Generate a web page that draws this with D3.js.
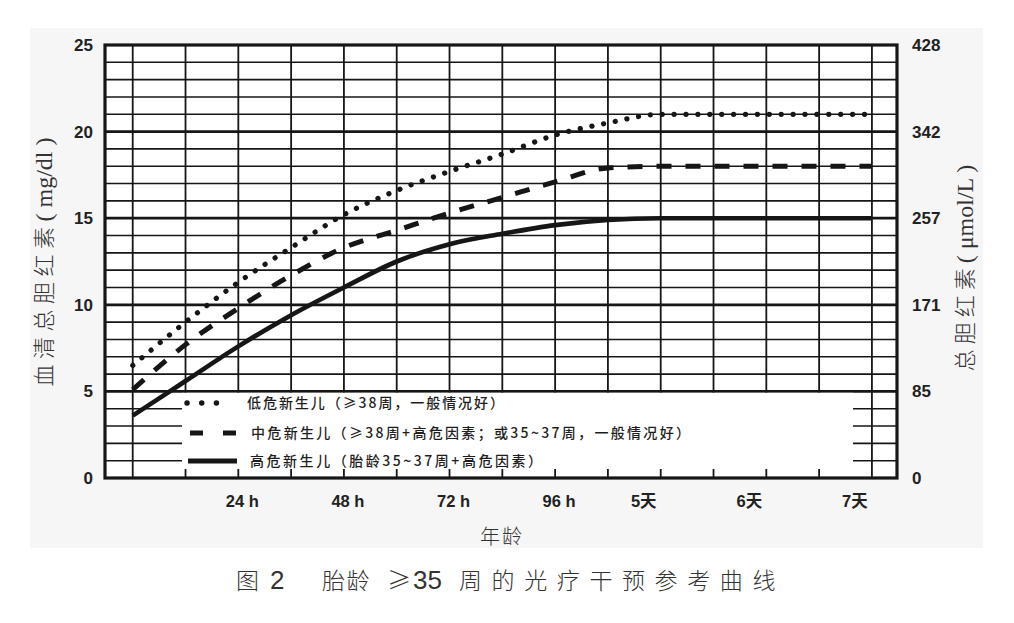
<!DOCTYPE html>
<html><head><meta charset="utf-8">
<script src="https://cdn.jsdelivr.net/npm/d3@7"></script>
<style>body{margin:0;background:#fff}svg{display:block}</style>
</head><body><svg id="c" width="1014" height="623"></svg>
<script>
// ---- data ----
const hours = [0, 12, 24, 36, 48, 60, 72, 84, 96, 108, 120, 132, 144, 156, 168];
const lowRisk    = [6.5, 9.0, 11.3, 13.3, 15.2, 16.6, 17.7, 18.7, 19.8, 20.5, 21.0, 21.0, 21.0, 21.0, 21.0];
const mediumRisk = [5.1, 7.7, 9.8, 11.7, 13.3, 14.3, 15.3, 16.2, 17.1, 17.9, 18.0, 18.0, 18.0, 18.0, 18.0];
const highRisk   = [3.6, 5.6, 7.6, 9.4, 11.0, 12.5, 13.5, 14.1, 14.6, 14.9, 15.0, 15.0, 15.0, 15.0, 15.0];
const leftTicks = [0, 5, 10, 15, 20, 25];
const rightTickLabels = ["0", "85", "171", "257", "342", "428"];
const xTickHours = [24, 48, 72, 96, 120, 144, 168];
const xTickLabels = ["24 h", "48 h", "72 h", "96 h", "5天", "6天", "7天"];
const legendLabels = [
  "低危新生儿（≥38周，一般情况好）",
  "中危新生儿（≥38周+高危因素；或35~37周，一般情况好）",
  "高危新生儿（胎龄35~37周+高危因素）"
];

// ---- layout ----
const svg = d3.select("#c");
const L = 105, R = 897, T = 45, B = 478;
const x = d3.scaleLinear().domain([-6.3, 173.7]).range([L, R]);
const y = d3.scaleLinear().domain([0, 25]).range([B, T]);
const ink = "#161616";
const numFont = "'Liberation Sans', Arial, 'Noto Sans CJK SC', sans-serif";
const cjkFont = "'Noto Sans CJK SC', sans-serif";
const serifFont = "'Liberation Serif', 'Times New Roman', serif";

// background panel
svg.append("rect").attr("x", 30).attr("y", 28).attr("width", 953).attr("height", 520).attr("fill", "#f6f6f6");
svg.append("rect").attr("x", L).attr("y", T).attr("width", R - L).attr("height", B - T).attr("fill", "#fff");

// grid
const g = svg.append("g");
g.selectAll("line.h").data(d3.range(1, 25)).join("line")
  .attr("x1", L).attr("x2", R).attr("y1", d => y(d)).attr("y2", d => y(d))
  .attr("stroke", ink).attr("stroke-width", d => d % 5 === 0 ? 2.8 : 1.6);
g.selectAll("line.v").data(hours).join("line")
  .attr("x1", d => x(d)).attr("x2", d => x(d)).attr("y1", T).attr("y2", B)
  .attr("stroke", ink).attr("stroke-width", 1.8);

// legend box (covers grid)
const LB = {x1: 182, x2: 853};
svg.append("rect").attr("x", LB.x1).attr("y", y(5) + 1.4).attr("width", LB.x2 - LB.x1).attr("height", B - y(5) - 1.4).attr("fill", "#fff");
svg.selectAll("line.tk").data(hours.filter(h => x(h) > LB.x1 && x(h) < LB.x2)).join("line")
  .attr("x1", d => x(d)).attr("x2", d => x(d)).attr("y1", B - 9).attr("y2", B)
  .attr("stroke", ink).attr("stroke-width", 1.8);

// curves
const line = d3.line().x((d, i) => x(hours[i])).y(d => y(d)).curve(d3.curveMonotoneX);
svg.append("path").attr("d", line(lowRisk)).attr("fill", "none").attr("stroke", ink)
  .attr("stroke-width", 5.2).attr("stroke-linecap", "round").attr("stroke-dasharray", "0.1 11.8");
svg.append("path").attr("d", line(mediumRisk)).attr("fill", "none").attr("stroke", ink)
  .attr("stroke-width", 5).attr("stroke-dasharray", "15 14");
svg.append("path").attr("d", line(highRisk)).attr("fill", "none").attr("stroke", ink)
  .attr("stroke-width", 4.6);

// legend items
const legY = [403, 433, 461];
const legW = [257, 439, 292];
const legX = [247, 251, 250];
const sampleStyle = [
  {x1: 187, x2: 231, dash: "0.1 14.6", cap: "round", w: 5.4},
  {x1: 190, x2: 237, dash: "13 20", cap: "butt", w: 5},
  {x1: 188, x2: 237, dash: null, cap: "butt", w: 5}
];
legendLabels.forEach((t, i) => {
  const s = sampleStyle[i];
  svg.append("line").attr("x1", s.x1).attr("x2", s.x2).attr("y1", legY[i]).attr("y2", legY[i])
    .attr("stroke", ink).attr("stroke-width", s.w).attr("stroke-linecap", s.cap)
    .attr("stroke-dasharray", s.dash);
  svg.append("text").attr("x", legX[i]).attr("y", legY[i]).attr("dy", "0.36em")
    .attr("font-family", cjkFont).attr("font-size", 14).attr("font-weight", 500)
    .attr("fill", "#1e1e1e").attr("textLength", legW[i]).attr("lengthAdjust", "spacing").text(t);
});

// frame
svg.append("rect").attr("x", L).attr("y", T).attr("width", R - L).attr("height", B - T)
  .attr("fill", "none").attr("stroke", ink).attr("stroke-width", 3.2);

// y tick labels
svg.selectAll("text.yl").data(leftTicks).join("text")
  .attr("x", 93).attr("y", d => y(d)).attr("dy", "0.35em").attr("text-anchor", "end")
  .attr("font-family", numFont).attr("font-weight", "bold").attr("font-size", 17).attr("fill", "#222")
  .text(d => d);
svg.selectAll("text.yr").data(rightTickLabels).join("text")
  .attr("x", 912).attr("y", (d, i) => y(leftTicks[i])).attr("dy", "0.35em").attr("text-anchor", "start")
  .attr("font-family", numFont).attr("font-weight", "bold").attr("font-size", 17).attr("fill", "#222")
  .text(d => d);

// x tick labels
svg.selectAll("text.xl").data(xTickLabels).join("text")
  .attr("x", (d, i) => x(xTickHours[i])).attr("dx", d => d.includes("天") ? -17 : 4)
  .attr("y", 501).attr("dy", "0.35em").attr("text-anchor", "middle")
  .attr("font-family", numFont).attr("font-weight", "bold").attr("font-size", 16.5).attr("fill", "#222")
  .text(d => d);

// axis titles
const lt = svg.append("text").attr("transform", "translate(46,262) rotate(-90)")
  .attr("text-anchor", "middle").attr("dy", "0.35em").attr("fill", "#333");
lt.append("tspan").attr("font-family", cjkFont).attr("font-weight", 300).attr("font-size", 22)
  .attr("letter-spacing", 5.5).text("血清总胆红素");
lt.append("tspan").attr("font-family", serifFont).attr("font-size", 24).text("( mg/dl )");

const rt = svg.append("text").attr("transform", "translate(967,268) rotate(-90)")
  .attr("text-anchor", "middle").attr("dy", "0.35em").attr("fill", "#333");
rt.append("tspan").attr("font-family", cjkFont).attr("font-weight", 300).attr("font-size", 22)
  .attr("letter-spacing", 5).text("总胆红素");
rt.append("tspan").attr("font-family", serifFont).attr("font-size", 24).text("( μmol/L )");

svg.append("text").attr("x", 502).attr("y", 537).attr("dy", "0.35em").attr("text-anchor", "middle")
  .attr("font-family", cjkFont).attr("font-weight", 300).attr("font-size", 20).attr("fill", "#333")
  .attr("letter-spacing", 2).text("年龄");

// caption
const cap = svg.append("text").attr("y", 583).attr("dy", "0.36em").attr("fill", "#333");
cap.append("tspan").attr("x", 236).attr("font-family", cjkFont).attr("font-weight", 300).attr("font-size", 23).text("图");
cap.append("tspan").attr("x", 270).attr("font-family", numFont).attr("font-size", 26).text("2");
cap.append("tspan").attr("x", 322).attr("font-family", cjkFont).attr("font-weight", 300).attr("font-size", 23)
  .attr("letter-spacing", 1.5).text("胎龄");
cap.append("tspan").attr("x", 387).attr("font-family", cjkFont).attr("font-weight", 300).attr("font-size", 24).text("≥");
cap.append("tspan").attr("x", 413).attr("font-family", numFont).attr("font-size", 26).text("35");
cap.append("tspan").attr("x", 459).attr("font-family", cjkFont).attr("font-weight", 300).attr("font-size", 23)
  .attr("letter-spacing", 9.6).text("周的光疗干预参考曲线");
</script>
</body></html>
